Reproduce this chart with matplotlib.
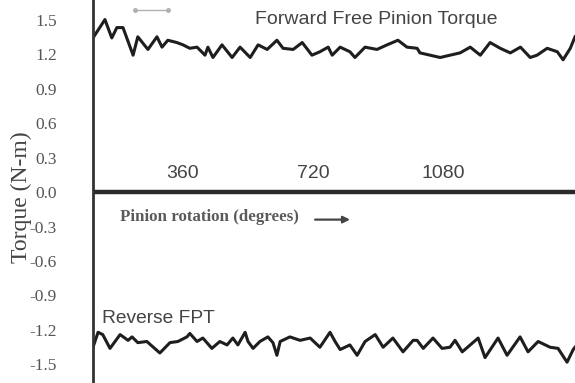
import matplotlib
matplotlib.use("Agg")
import matplotlib.pyplot as plt

# forward free pinion torque (degrees, N-m)
fwd_deg = [111, 144, 163, 177, 194, 222, 235, 263, 288, 302, 318, 343, 360, 379,
           399, 421, 429, 443, 468, 496, 518, 546, 568, 593, 620, 637, 665, 690,
           717, 739, 762, 773, 795, 822, 836, 864, 897, 925, 955, 980, 1008, 1016,
           1044, 1072, 1099, 1127, 1155, 1183, 1210, 1238, 1266, 1294, 1321, 1340,
           1368, 1396, 1412, 1432, 1445]
fwd_torque = [1.34, 1.50, 1.34, 1.43, 1.43, 1.19, 1.35, 1.24, 1.35, 1.26, 1.32, 1.30,
              1.28, 1.25, 1.26, 1.19, 1.26, 1.17, 1.28, 1.17, 1.26, 1.17, 1.28, 1.24,
              1.32, 1.25, 1.24, 1.30, 1.19, 1.22, 1.26, 1.19, 1.26, 1.22, 1.17, 1.26,
              1.24, 1.28, 1.32, 1.26, 1.25, 1.21, 1.19, 1.17, 1.19, 1.21, 1.26, 1.19,
              1.30, 1.25, 1.21, 1.26, 1.17, 1.19, 1.25, 1.22, 1.15, 1.25, 1.35]

# reverse FPT
rev_deg = [111, 125, 138, 158, 186, 208, 219, 235, 260, 296, 324, 346, 371, 379,
           399, 415, 440, 462, 482, 498, 512, 532, 540, 554, 573, 595, 609, 620,
           629, 656, 684, 712, 739, 767, 781, 795, 822, 842, 864, 892, 914, 941,
           969, 997, 1008, 1025, 1052, 1077, 1099, 1113, 1133, 1155, 1177, 1196,
           1232, 1257, 1293, 1315, 1343, 1376, 1398, 1423, 1440, 1445]
rev_torque = [-1.35, -1.22, -1.24, -1.36, -1.24, -1.29, -1.26, -1.31, -1.30, -1.40,
              -1.31, -1.30, -1.26, -1.23, -1.30, -1.27, -1.36, -1.30, -1.33, -1.27,
              -1.33, -1.22, -1.30, -1.36, -1.30, -1.26, -1.31, -1.42, -1.30, -1.26,
              -1.29, -1.27, -1.35, -1.22, -1.30, -1.37, -1.33, -1.42, -1.30, -1.24,
              -1.35, -1.27, -1.39, -1.29, -1.29, -1.36, -1.27, -1.36, -1.35, -1.29,
              -1.39, -1.33, -1.27, -1.44, -1.27, -1.42, -1.26, -1.39, -1.30, -1.35,
              -1.36, -1.48, -1.37, -1.35]

x_ticks = [360, 720, 1080]
y_ticks = [1.5, 1.2, 0.9, 0.6, 0.3, 0.0, -0.3, -0.6, -0.9, -1.2, -1.5]

fig = plt.figure(figsize=(5.75, 3.83), dpi=100)
ax = fig.add_axes([93 / 575, 0, 482 / 575, 1])

ax.plot(fwd_deg, fwd_torque, color="#1e1e1e", lw=2.2, solid_joinstyle="round")
ax.plot(rev_deg, rev_torque, color="#1e1e1e", lw=2.2, solid_joinstyle="round")
ax.axhline(0, color="#2a2a2a", lw=3.2)

# little scale marker at the top
ax.plot([227, 318], [1.58, 1.58], color="#b0b0b0", lw=1, marker="o", ms=2.5)

ax.set_xlim(111, 1445)
ax.set_ylim(-1.661, 1.670)

for s in ["top", "right", "bottom"]:
    ax.spines[s].set_visible(False)
ax.spines["left"].set_color("#333333")
ax.spines["left"].set_linewidth(2)

ax.set_xticks([])
ax.set_yticks(y_ticks)
ax.set_yticklabels(["%.1f" % v for v in y_ticks], family="Liberation Serif",
                   fontsize=12.5, color="#555555")
ax.tick_params(axis="y", length=0, pad=26)
ax.set_ylabel("Torque (N-m)", family="Liberation Serif", fontsize=17,
              color="#444444")
ax.yaxis.set_label_coords(-0.127, 0.486)

for t in x_ticks:
    ax.text(t, 0.165, str(t), ha="center", va="center", fontsize=14,
            family="Liberation Sans", color="#444444")

ax.text(559, 1.50, "Forward Free Pinion Torque", ha="left", va="center",
        fontsize=14, family="Liberation Sans", color="#444444")
ax.text(136, -1.10, "Reverse FPT", ha="left", va="center",
        fontsize=13.8, family="Liberation Sans", color="#444444")
ax.text(186, -0.22, "Pinion rotation (degrees)", ha="left", va="center",
        fontsize=12.2, family="Liberation Serif", weight="bold", color="#5a5a5a")
ax.annotate("", xy=(830, -0.24), xytext=(718, -0.24),
            arrowprops=dict(arrowstyle="-|>", color="#444444", lw=1.6,
                            mutation_scale=10))

fig.savefig("out.png", dpi=100)
